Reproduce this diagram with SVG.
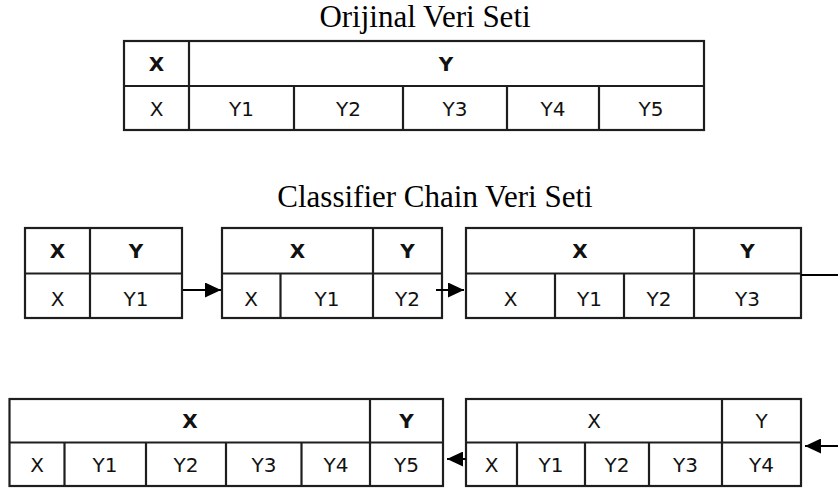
<svg xmlns="http://www.w3.org/2000/svg" width="838" height="491" viewBox="0 0 838 491">
<style>
.title{font-family:"Liberation Serif","Times New Roman",serif;font-size:31px;fill:#000;text-anchor:middle}
.c{font-family:"DejaVu Sans",Verdana,sans-serif;font-size:20px;fill:#111;text-anchor:middle}
.b{font-weight:bold}
.box{fill:#fff;stroke:#1e1e1e;stroke-width:2.2}
.ln{stroke:#1e1e1e;stroke-width:2.2;fill:none}
.ar{stroke:#000;stroke-width:2;fill:none}
</style>
<defs>
<marker id="ah" viewBox="0 0 16 15" refX="16" refY="7.5" markerWidth="16" markerHeight="15" markerUnits="userSpaceOnUse" orient="auto">
<path d="M0,0 L16,7.5 L0,15 Z" fill="#000"/>
</marker>
</defs>
<text class="title" x="425" y="27">Orijinal Veri Seti</text>
<text class="title" x="435" y="207">Classifier Chain Veri Seti</text>

<g id="orijinal">
<rect class="box" x="124" y="41" width="580" height="89"/>
<path class="ln" d="M124,86H704 M189,41V130 M294,86V130 M403,86V130 M507,86V130 M599,86V130"/>
<text class="c b" x="156.5" y="71">X</text>
<text class="c b" x="446" y="71">Y</text>
<text class="c" x="156.5" y="116">X</text>
<text class="c" x="241.5" y="116">Y1</text>
<text class="c" x="348.5" y="116">Y2</text>
<text class="c" x="455" y="116">Y3</text>
<text class="c" x="553" y="116">Y4</text>
<text class="c" x="651" y="116">Y5</text>
</g>

<g id="cc1">
<rect class="box" x="25" y="228" width="157" height="90"/>
<path class="ln" d="M25,273.5H182 M90,228V318"/>
<text class="c b" x="57.5" y="258">X</text>
<text class="c b" x="136" y="258">Y</text>
<text class="c" x="57.5" y="306">X</text>
<text class="c" x="136" y="306">Y1</text>
</g>

<g id="cc2">
<rect class="box" x="222" y="228" width="220" height="90"/>
<path class="ln" d="M222,273.5H442 M373,228V318 M280.5,273.5V318"/>
<text class="c b" x="297.5" y="258">X</text>
<text class="c b" x="407.5" y="258">Y</text>
<text class="c" x="251" y="306">X</text>
<text class="c" x="327" y="306">Y1</text>
<text class="c" x="407.5" y="306">Y2</text>
</g>

<g id="cc3">
<rect class="box" x="466" y="228" width="335" height="90"/>
<path class="ln" d="M466,273.5H801 M694,228V318 M555,273.5V318 M624,273.5V318"/>
<text class="c b" x="580" y="258">X</text>
<text class="c b" x="747.5" y="258">Y</text>
<text class="c" x="510.5" y="306">X</text>
<text class="c" x="589.5" y="306">Y1</text>
<text class="c" x="659" y="306">Y2</text>
<text class="c" x="747.5" y="306">Y3</text>
</g>

<g id="cc4">
<rect class="box" x="466" y="399" width="335" height="87"/>
<path class="ln" d="M466,442.5H801 M722,399V486 M517,442.5V486 M585,442.5V486 M649,442.5V486"/>
<text class="c" x="594" y="428">X</text>
<text class="c" x="761.5" y="428">Y</text>
<text class="c" x="491.5" y="472">X</text>
<text class="c" x="551" y="472">Y1</text>
<text class="c" x="617" y="472">Y2</text>
<text class="c" x="685.5" y="472">Y3</text>
<text class="c" x="761.5" y="472">Y4</text>
</g>

<g id="cc5">
<rect class="box" x="9.5" y="399" width="433.5" height="87"/>
<path class="ln" d="M9.5,442.5H443 M370,399V486 M64.5,442.5V486 M146,442.5V486 M226,442.5V486 M301.5,442.5V486"/>
<text class="c b" x="190" y="428">X</text>
<text class="c b" x="406.5" y="428">Y</text>
<text class="c" x="37" y="472">X</text>
<text class="c" x="105" y="472">Y1</text>
<text class="c" x="186" y="472">Y2</text>
<text class="c" x="264" y="472">Y3</text>
<text class="c" x="336" y="472">Y4</text>
<text class="c" x="406.5" y="472">Y5</text>
</g>

<g id="connectors">
<line class="ar" x1="183" y1="290" x2="221" y2="290" marker-end="url(#ah)"/>
<line class="ar" x1="436" y1="290" x2="464" y2="290" marker-end="url(#ah)"/>
<line class="ar" x1="801" y1="275" x2="838" y2="275"/>
<line class="ar" x1="838" y1="446" x2="805" y2="446" marker-end="url(#ah)"/>
<line class="ar" x1="466" y1="459" x2="447" y2="459" marker-end="url(#ah)"/>
</g>
</svg>
